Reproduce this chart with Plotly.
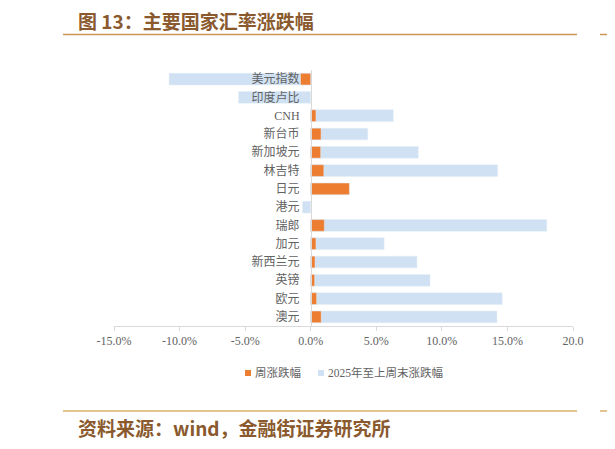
import plotly.graph_objects as go

# data (%)
currencies = ["美元指数", "印度卢比", "CNH", "新台币", "新加坡元", "林吉特", "日元",
              "港元", "瑞郎", "加元", "新西兰元", "英镑", "欧元", "澳元"]
week_chg = [-0.78, 0.0, 0.4, 0.79, 0.76, 1.0, 2.95,
            0.0, 1.04, 0.4, 0.33, 0.3, 0.45, 0.8]
ytd_chg = [-10.8, -5.5, 6.3, 4.35, 8.2, 14.25, 2.4,
           -0.63, 18.0, 5.6, 8.1, 9.1, 14.6, 14.2]
tick_vals = [-15, -10, -5, 0, 5, 10, 15, 20]
tick_text = ["-15.0%", "-10.0%", "-5.0%", "0.0%", "5.0%", "10.0%", "15.0%", "20.0"]
legend_names = ["周涨跌幅", "2025年至上周末涨跌幅"]

# page has an 8px body margin, so work in page pixels and shift
OFF = 8
W, H = 615, 449
L, R, T, B = 114 - OFF, 573 - OFF, 70 - OFF, 326 - OFF


def px(x):
    return (x - OFF - L) / (R - L)


def py_(y):
    return (B - (y - OFF)) / (B - T)


brown = "#8A5A2E"
orange = "#ED7D31"
blue = "#CFE1F2"
label_grey = "#626262"
font_txt = "Liberation Serif, Noto Sans CJK SC, serif"

fig = go.Figure()
fig.add_trace(go.Bar(y=currencies, x=ytd_chg, orientation="h", name=legend_names[1],
                     marker=dict(color=blue), width=0.64, showlegend=False))
fig.add_trace(go.Bar(y=currencies, x=week_chg, orientation="h", name=legend_names[0],
                     marker=dict(color=orange), width=0.64, showlegend=False))

shapes = [
    dict(type="line", xref="paper", yref="paper", x0=px(63), x1=px(577), y0=py_(34.5), y1=py_(34.5),
         line=dict(color="#C9974F", width=1.5)),
    dict(type="line", xref="paper", yref="paper", x0=px(600), x1=px(640), y0=py_(34.5), y1=py_(34.5),
         line=dict(color="#C9974F", width=1.5)),
    dict(type="line", xref="paper", yref="paper", x0=px(63), x1=px(577), y0=py_(411), y1=py_(411),
         line=dict(color="#E2C48E", width=2)),
    dict(type="line", xref="paper", yref="paper", x0=px(600), x1=px(640), y0=py_(411), y1=py_(411),
         line=dict(color="#E2C48E", width=2)),
    # legend swatches
    dict(type="rect", xref="paper", yref="paper", x0=px(245), x1=px(251), y0=py_(370), y1=py_(376),
         fillcolor=orange, line=dict(width=0)),
    dict(type="rect", xref="paper", yref="paper", x0=px(318), x1=px(324), y0=py_(370), y1=py_(376),
         fillcolor=blue, line=dict(width=0)),
]

annotations = [
    dict(text="<b>图 13：主要国家汇率涨跌幅</b>", xref="paper", yref="paper", x=px(76), y=py_(20),
         xanchor="left", yanchor="middle", showarrow=False,
         font=dict(size=19, color=brown, family="Noto Sans CJK SC")),
    dict(text="<b>资料来源：wind，金融街证券研究所</b>", xref="paper", yref="paper", x=px(76), y=py_(427.5),
         xanchor="left", yanchor="middle", showarrow=False,
         font=dict(size=19, color=brown, family="Noto Sans CJK SC")),
    dict(text=legend_names[0], xref="paper", yref="paper", x=px(253), y=py_(372.5),
         xanchor="left", yanchor="middle", showarrow=False,
         font=dict(size=11.5, color=label_grey, family=font_txt)),
    dict(text=legend_names[1], xref="paper", yref="paper", x=px(326), y=py_(372.5),
         xanchor="left", yanchor="middle", showarrow=False,
         font=dict(size=11.5, color=label_grey, family=font_txt)),
]

fig.update_layout(
    width=W, height=H,
    margin=dict(l=L, r=W - R, t=T, b=H - B),
    paper_bgcolor="white", plot_bgcolor="white",
    barmode="overlay",
    showlegend=False,
    xaxis=dict(range=[-15, 20], tickvals=tick_vals, ticktext=tick_text,
               showgrid=False, zeroline=False, showline=True, linecolor="#D9D9D9", linewidth=1,
               ticks="outside", ticklen=4, tickcolor="#D9D9D9",
               tickfont=dict(size=12, color=label_grey, family=font_txt)),
    yaxis=dict(autorange="reversed", anchor="free", position=px(311),
               showgrid=False, zeroline=False, showline=True, linecolor="#D9D9D9", linewidth=1,
               ticks="", ticklabelstandoff=9,
               tickfont=dict(size=12, color=label_grey, family=font_txt)),
    shapes=shapes,
    annotations=annotations,
)

fig.write_html("out.html")
